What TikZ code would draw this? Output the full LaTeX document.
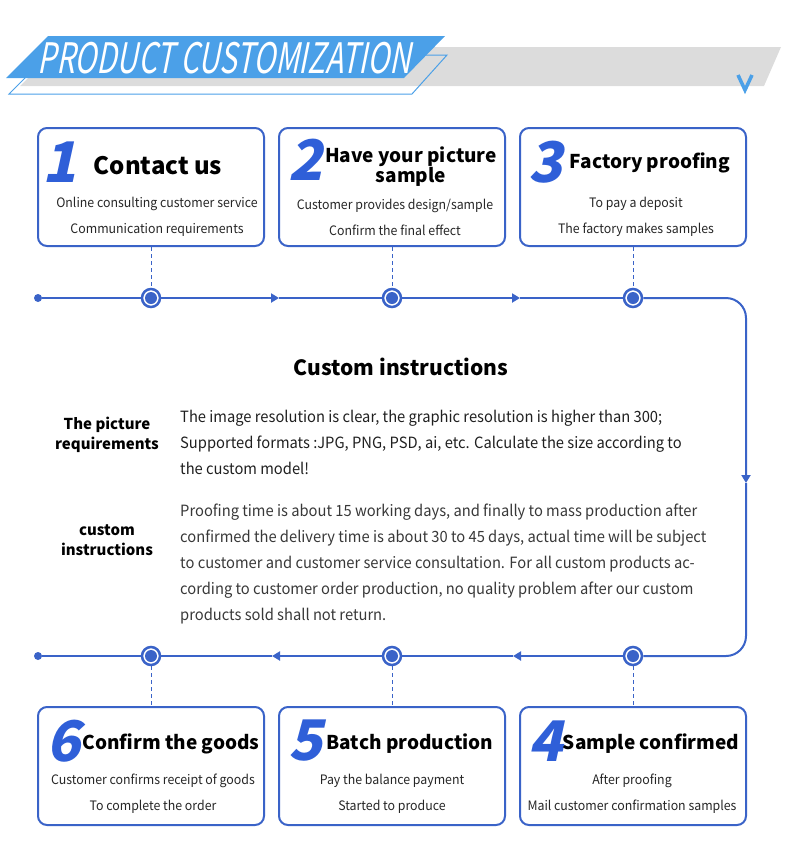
\documentclass[tikz,border=0pt]{standalone}
\usepackage{fontspec}
\setmainfont{Noto Sans CJK SC}
\newfontfamily\headfont{Noto Sans CJK SC}[FakeSlant=0.2,FakeStretch=0.7]
\newfontfamily\numfont{Noto Sans CJK SC}[FakeSlant=0.22]
\newfontfamily\bodyfont{Noto Sans CJK SC}[FakeStretch=0.95]
\usepackage{xcolor}
\usepackage{tikz}
\usetikzlibrary{positioning,arrows.meta}

\definecolor{lineblue}{HTML}{3A63C8}
\definecolor{numblue}{HTML}{2F5FD8}
\definecolor{headblue}{HTML}{4BA0E8}
\definecolor{bandgray}{HTML}{DCDCDC}

\begin{document}
\begin{tikzpicture}[
    x=1pt, y=-1pt,
    >={Triangle[length=8pt,width=9pt]},
    stepbox/.style={draw=lineblue, line width=2pt, rounded corners=9pt, minimum width=226pt, minimum height=118pt},
    num/.style={font=\numfont\bfseries\fontsize{56}{56}\selectfont, text=numblue, inner sep=0},
    title/.style={font=\bfseries\fontsize{19}{20}\selectfont, inner sep=0, align=center},
    desc/.style={font=\bodyfont\fontsize{13}{26}\selectfont, text=black!85, inner sep=0, align=center},
    ring/.style={circle, draw=lineblue, line width=2.5pt, fill=white, minimum size=18pt, inner sep=0},
    dot/.style={circle, fill=lineblue, minimum size=12pt, inner sep=0},
    endpt/.style={circle, fill=lineblue, minimum size=8pt, inner sep=0},
    flow/.style={draw=lineblue, line width=2pt},
    link/.style={draw=lineblue, line width=1pt, dash pattern=on 4pt off 3pt},
    label/.style={font=\bfseries\fontsize{15}{20}\selectfont, inner sep=0, align=center},
    para/.style={font=\bodyfont\fontsize{15.5}{26}\selectfont, inner sep=0, align=left, anchor=west}
]
\useasboundingbox (0,0) rectangle (790,852);

% Header
\fill[bandgray] (60,47) -- (781,47) -- (764,86) -- (20,86) -- cycle;
\draw[headblue, line width=1pt] (48,55) -- (447,55) -- (412,94) -- (9,94) -- cycle;
\fill[headblue] (48,36) -- (445,36) -- (404,78) -- (6,78) -- cycle;
\node[font=\headfont\fontsize{42}{42}\selectfont, text=white, inner sep=0] (head) at (224,58) {PRODUCT CUSTOMIZATION};
\draw[headblue, line width=3.5pt] (738,75) -- (745,90) -- (752,75);

% Top steps
\node[stepbox] (box1) at (151,187) {};
\node[stepbox] (box2) at (392,187) {};
\node[stepbox] (box3) at (633,187) {};

\node[num] (num1) at (60,162) {1};
\node[title, font=\bfseries\fontsize{24}{24}\selectfont] (title1) at (158,166) {Contact us};
\node[desc] (desc1) at (157,217) {Online consulting customer service\\Communication requirements};

\node[num] (num2) at (306,160) {2};
\node[title] (title2) at (411,167) {Have your picture\\sample};
\node[desc] (desc2) at (395,217) {Customer provides design/sample\\Confirm the final effect};

\node[num] (num3) at (546,162) {3};
\node[title] (title3) at (650,163) {Factory proofing};
\node[desc] (desc3) at (636,217) {To pay a deposit\\The factory makes samples};

% Bottom steps
\node[stepbox] (box6) at (151,766) {};
\node[stepbox] (box5) at (392,766) {};
\node[stepbox] (box4) at (633,766) {};

\node[num] (num6) at (64,741) {6};
\node[title] (title6) at (171,744) {Confirm the goods};
\node[desc] (desc6) at (153,794) {Customer confirms receipt of goods\\To complete the order};

\node[num] (num5) at (306,741) {5};
\node[title] (title5) at (410,744) {Batch production};
\node[desc] (desc5) at (392,794) {Pay the balance payment\\Started to produce};

\node[num] (num4) at (546,741) {4};
\node[title] (title4) at (651,744) {Sample confirmed};
\node[desc] (desc4) at (632,794) {After proofing\\Mail customer confirmation samples};

% Timeline points
\node[endpt] (start) at (38,298) {};
\node[endpt] (finish) at (38,656) {};
\foreach \i/\x/\y in {1/151/298, 2/392/298, 3/633/298, 4/633/656, 5/392/656, 6/151/656} {
    \node[ring] (c\i) at (\x,\y) {};
    \node[dot] at (c\i) {};
}
\coordinate (a1) at (279,298);
\coordinate (a2) at (520,298);
\coordinate (tr) at (746,298);
\coordinate (a3) at (746,483);
\coordinate (br) at (746,656);
\coordinate (a4) at (513,656);
\coordinate (a5) at (272,656);

% Flow line
\draw[flow] (start) -- (c1);
\draw[flow, ->] (c1) -- (a1);
\draw[flow] (a1) -- (c2);
\draw[flow, ->] (c2) -- (a2);
\draw[flow] (a2) -- (c3);
\draw[flow, ->, rounded corners=20pt] (c3) -- (tr) -- (a3);
\draw[flow, rounded corners=20pt] (a3) -- (br) -- (c4);
\draw[flow, ->] (c4) -- (a4);
\draw[flow] (a4) -- (c5);
\draw[flow, ->] (c5) -- (a5);
\draw[flow] (a5) -- (c6);
\draw[flow] (c6) -- (finish);

% Dashed links
\draw[link] (box1) -- (c1);
\draw[link] (box2) -- (c2);
\draw[link] (box3) -- (c3);
\draw[link] (c4) -- (box4);
\draw[link] (c5) -- (box5);
\draw[link] (c6) -- (box6);

% Instructions
\node[font=\bfseries\fontsize{21}{21}\selectfont, inner sep=0] (heading) at (401,367) {Custom instructions};
\node[label] (lab1) at (107,435) {The picture\\requirements};
\node[label] (lab2) at (107,540) {custom\\instructions};
\node[para, text=black!88] (para1) at (180,442) {The image resolution is clear, the graphic resolution is higher than 300;\\Supported formats :JPG, PNG, PSD, ai, etc. Calculate the size according to\\the custom model!};
\node[para, text=black!78] (para2) at (180,564) {Proofing time is about 15 working days, and finally to mass production after\\confirmed the delivery time is about 30 to 45 days, actual time will be subject\\to customer and customer service consultation. For all custom products ac-\\cording to customer order production, no quality problem after our custom\\products sold shall not return.};
\end{tikzpicture}
\end{document}
